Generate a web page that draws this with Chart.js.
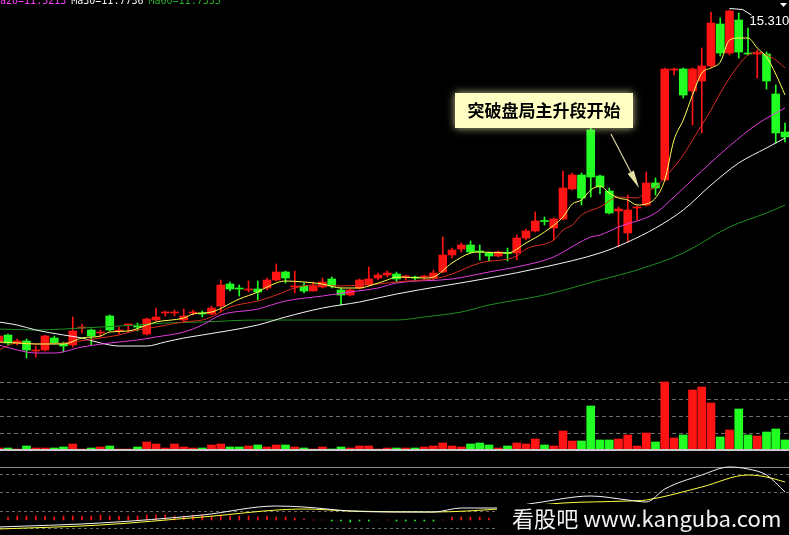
<!DOCTYPE html>
<html>
<head>
<meta charset="utf-8">
<script src="https://cdn.jsdelivr.net/npm/chart.js@4/dist/chart.umd.min.js"></script>
<style>
html, body { margin: 0; padding: 0; background: #000; overflow: hidden; }
#wrap { position: relative; width: 789px; height: 535px; background: #000; }
#wrap canvas { position: absolute; left: 0; }
.sep { position: absolute; left: 0; width: 789px; }
</style>
</head>
<body>
<div id="wrap">
  <div class="sep" style="top:467px;height:1px;background:#8c8c8c"></div>
  <canvas id="main" width="789" height="378" style="top:0"></canvas>
  <canvas id="vol" width="789" height="80" style="top:370px"></canvas>
  <div class="sep" style="top:449px;height:2px;background:#c8c8c8"></div>
  <canvas id="macd" width="789" height="80" style="top:455px"></canvas>
</div>
<script>
// trading days shown, -1 is the half-cut candle at the left edge
const days = Array.from({ length: 86 }, (_, i) => i - 1);

const open = [
  8.67, 8.81, 8.65, 8.69, 8.49, 8.51, 8.75, 8.63, 8.61, 8.95,
  8.91, 8.85, 9.19, 8.89, 9.01, 8.98, 8.83, 9.11, 9.25, 9.25,
  9.11, 9.25, 9.24, 9.23, 9.39, 9.83, 9.74, 9.71, 9.73, 9.75,
  9.91, 10.07, 9.77, 9.79, 9.69, 9.77, 9.93, 9.71, 9.61, 9.75,
  9.81, 9.95, 10.01, 10.03, 9.97, 9.96, 9.97, 9.95, 10.07, 10.41,
  10.53, 10.61, 10.48, 10.45, 10.39, 10.45, 10.45, 10.75, 10.89, 11.09,
  10.95, 11.13, 11.73, 12.01, 12.91, 11.99, 11.69, 11.29, 10.85, 11.35,
  11.41, 11.85, 11.91, 14.11, 14.13, 13.69, 13.89, 14.19, 15.03, 14.45,
  15.11, 14.45, 14.43, 14.43, 13.63, 12.87
];
const high = [
  8.83, 8.83, 8.73, 8.73, 8.59, 8.81, 8.79, 8.67, 9.17, 9.03,
  8.93, 8.91, 9.21, 8.97, 9.03, 9.05, 9.15, 9.35, 9.29, 9.31,
  9.33, 9.31, 9.29, 9.39, 9.91, 9.87, 9.81, 9.89, 9.89, 9.95,
  10.23, 10.09, 10.09, 9.85, 9.87, 9.95, 9.97, 9.75, 9.73, 9.93,
  10.17, 10.05, 10.09, 10.07, 10.01, 9.99, 10.01, 10.11, 10.77, 10.55,
  10.65, 10.69, 10.61, 10.47, 10.49, 10.55, 10.81, 10.93, 11.27, 11.17,
  11.15, 12.09, 12.05, 12.05, 12.95, 12.01, 11.75, 11.37, 11.61, 11.39,
  12.07, 11.95, 14.15, 14.15, 14.15, 14.15, 14.55, 15.27, 15.15, 15.31,
  15.25, 14.95, 14.51, 14.47, 13.81, 13.05
];
const low = [
  8.63, 8.61, 8.61, 8.35, 8.37, 8.49, 8.63, 8.47, 8.57, 8.85,
  8.61, 8.77, 8.89, 8.83, 8.87, 8.89, 8.81, 9.09, 9.19, 9.19,
  9.07, 9.21, 9.17, 9.21, 9.27, 9.69, 9.59, 9.67, 9.51, 9.71,
  9.89, 9.85, 9.65, 9.65, 9.69, 9.75, 9.75, 9.41, 9.59, 9.73,
  9.79, 9.91, 9.97, 9.87, 9.91, 9.91, 9.91, 9.91, 10.05, 10.35,
  10.47, 10.45, 10.31, 10.29, 10.37, 10.29, 10.31, 10.71, 10.87, 11.01,
  10.71, 11.11, 11.71, 11.41, 11.57, 11.63, 11.23, 10.57, 10.67, 11.11,
  11.39, 11.61, 11.89, 14.01, 13.55, 13.01, 12.85, 14.17, 14.39, 14.41,
  14.35, 14.41, 13.95, 13.73, 12.65, 12.67
];
const close = [
  8.79, 8.65, 8.69, 8.51, 8.51, 8.79, 8.65, 8.59, 8.89, 8.95,
  8.79, 8.85, 8.91, 8.89, 9.01, 8.97, 9.13, 9.17, 9.25, 9.25,
  9.19, 9.25, 9.23, 9.35, 9.81, 9.73, 9.73, 9.71, 9.67, 9.91,
  10.07, 9.95, 9.77, 9.69, 9.79, 9.87, 9.79, 9.61, 9.71, 9.91,
  9.93, 10.01, 10.05, 9.93, 9.97, 9.95, 9.97, 10.05, 10.41, 10.51,
  10.61, 10.47, 10.47, 10.39, 10.47, 10.44, 10.75, 10.89, 11.09, 11.08,
  11.13, 11.75, 12.01, 11.55, 11.97, 11.77, 11.25, 11.33, 11.31, 11.37,
  11.85, 11.75, 14.13, 14.13, 13.61, 14.13, 14.19, 15.05, 14.45, 15.29,
  14.47, 14.43, 14.45, 13.89, 12.85, 12.77
];
const volume = [
  2, 2, 1, 4, 2, 2, 2, 3, 6, 1,
  2, 3, 4, 1, 1, 3, 8, 6, 2, 6,
  3, 2, 2, 5, 6, 3, 3, 4, 5, 3,
  5, 5, 3, 2, 1, 3, 1, 3, 2, 4,
  4, 1, 2, 2, 2, 2, 3, 4, 7, 4,
  3, 6, 7, 5, 2, 4, 7, 6, 11, 5,
  4, 19, 9, 9, 44, 10, 10, 11, 15, 4,
  17, 8, 68, 12, 15, 60, 63, 47, 13, 20,
  41, 15, 14, 18, 21, 10
];

// moving averages as [day, price]
const ma5 = [[-1,8.67],[1,8.65],[3,8.63],[6,8.63],[8,8.75],[10,8.79],[11,8.87],[13,8.89],[15,9.01],[16,9.07],
  [19,9.15],[20,9.23],[22,9.27],[25,9.53],[27,9.67],[28,9.77],[30,9.89],[32,9.87],[34,9.83],[36,9.75],
  [38,9.75],[39,9.79],[41,9.91],[42,9.97],[45,9.95],[46,9.97],[48,10.25],[50,10.45],[51,10.47],[54,10.45],
  [56,10.65],[58,10.87],[60,11.17],[61,11.43],[62,11.51],[63,11.71],[64,11.79],[65,11.65],[66,11.55],[67,11.51],
  [68,11.41],[69,11.43],[70,11.55],[71,11.91],[72,12.71],[73,13.11],[74,13.61],[75,14.05],[76,14.15],[77,14.27],
  [78,14.71],[79,14.75],[80,14.75],[81,14.55],[82,14.37],[83,14.03],[84,13.61]];
const ma10 = [[-1,8.51],[1,8.65],[3,8.63],[6,8.65],[7,8.67],[10,8.75],[12,8.81],[14,8.91],[16,8.97],[19,9.07],
  [21,9.11],[22,9.17],[24,9.37],[27,9.49],[29,9.61],[31,9.75],[33,9.81],[36,9.79],[38,9.81],[40,9.83],
  [42,9.87],[47,9.97],[51,10.25],[55,10.39],[56,10.53],[59,10.71],[60,10.91],[61,11.01],[62,11.21],[64,11.37],
  [66,11.57],[68,11.55],[69,11.67],[70,11.77],[72,12.17],[73,12.41],[74,12.71],[75,13.01],[76,13.31],[77,13.65],
  [78,13.95],[79,14.21],[80,14.41],[81,14.47],[82,14.41],[83,14.31],[84,14.15]];
const ma20 = [[-1,8.61],[1,8.51],[3,8.45],[5,8.45],[8,8.57],[11,8.65],[14,8.71],[16,8.77],[19,8.87],[21,9.01],
  [23,9.21],[27,9.33],[30,9.49],[34,9.59],[37,9.67],[40,9.75],[42,9.85],[48,9.93],[52,10.07],[56,10.21],
  [59,10.37],[60,10.47],[63,10.77],[64,10.81],[66,10.97],[70,11.25],[72,11.57],[75,12.09],[78,12.59],[81,13.03],
  [84,13.35]];
const ma30 = [[-1,9.07],[1,9.01],[3,8.91],[6,8.81],[8,8.75],[10,8.65],[12,8.59],[15,8.59],[17,8.67],[19,8.75],
  [21,8.81],[27,9.01],[30,9.17],[34,9.35],[38,9.47],[42,9.63],[52,9.95],[58,10.17],[64,10.45],[67,10.67],
  [70,10.95],[73,11.31],[76,11.81],[79,12.25],[82,12.55],[84,12.75]];
const ma60 = [[-1,8.93],[3,8.91],[6,8.93],[10,8.97],[14,9.01],[17,9.05],[21,9.07],[27,9.11],[34,9.11],[42,9.11],
  [45,9.17],[49,9.27],[52,9.41],[58,9.61],[64,9.91],[68,10.11],[73,10.45],[78,10.97],[82,11.25],[84,11.41]];

// MACD panel
const macdHist = [
  0.03, 0.03, 0.04, 0.04, 0.04, 0.04, 0.03, 0.04, 0.04, 0.04, 0.04,
  0.05, 0.04, 0.04, 0.04, 0.04, 0.05, 0.05, 0.05, 0.04, 0.04, 0.05,
  0.05, 0.04, 0.05, 0.04, 0.04, 0.04, 0.03, 0.04, 0.03, 0.03, 0.02,
  0.01, 0, 0, -0.01, -0.01, -0.02, -0.01, -0.01, 0, 0,
  -0.01, -0.01, -0.01, -0.01, -0.01, 0, 0.03, 0.03, 0.03, 0.03, 0.02, 0.01
];
const dif = [[-1,-0.07],[10,-0.03],[21,0.05],[29,0.14],[32,0.13],[37,0.09],[43,0.08],[46,0.08],[49,0.12],[53,0.12],
  [57,0.17],[63,0.24],[67,0.20],[69,0.18],[71,0.31],[75,0.45],[78,0.53],[80,0.51],[82,0.45],[84,0.28]];
const dea = [[-1,-0.09],[10,-0.05],[21,0.03],[32,0.11],[37,0.09],[46,0.08],[53,0.11],[60,0.17],[67,0.19],[69,0.20],
  [75,0.33],[80,0.45],[82,0.43],[84,0.38]];

const volTickStep = 17;
const macdGrid = [-0.08, 0.09, 0.28, 0.46];

const maLegend = [['Ma20=11.5213', '#ff3cff'], ['Ma30=11.7736', '#f4f4f4'], ['Ma60=11.7335', '#2eae2e']];
const noteText = '突破盘局主升段开始';
const watermark = '看股吧 www.kanguba.com';

const RED = '#ff1414';
const GREEN = '#22ff22';
const candleColors = days.map((d, i) => close[i] >= open[i] ? RED : GREEN);

const X_MIN = -0.865, X_MAX = 84.432;

function pts(list) {
  return list.map(p => ({ x: p[0], y: p[1] }));
}

function baseOptions(yScale) {
  return {
    responsive: false,
    animation: false,
    devicePixelRatio: 1,
    events: [],
    layout: { padding: 0, autoPadding: false },
    plugins: { legend: { display: false }, tooltip: { enabled: false } },
    scales: {
      x: { type: 'linear', min: X_MIN, max: X_MAX, display: false, offset: false },
      y: yScale
    }
  };
}

function maLine(list, color, order) {
  return {
    type: 'line',
    data: pts(list),
    borderColor: color,
    borderWidth: 1,
    pointRadius: 0,
    cubicInterpolationMode: 'monotone',
    order: order
  };
}

// Annotation, high-price marker and the cut MA readout on the price panel
const mainDecor = {
  id: 'mainDecor',
  afterDatasetsDraw(chart) {
    const { ctx, scales: { x, y } } = chart;
    ctx.save();

    ctx.font = '10px "DejaVu Sans Mono"';
    ctx.textBaseline = 'alphabetic';
    ctx.textAlign = 'left';
    let tx = -6;
    maLegend.forEach(([txt, col]) => {
      ctx.fillStyle = col;
      ctx.fillText(txt, tx, 4);
      tx += ctx.measureText(txt).width + 5;
    });

    // highest price marker
    const hi = Math.max(...high);
    const hiIdx = high.indexOf(hi);
    const hx = x.getPixelForValue(days[hiIdx]);
    const hy = y.getPixelForValue(hi);
    ctx.strokeStyle = '#ffffff';
    ctx.lineWidth = 1;
    ctx.beginPath();
    ctx.moveTo(hx, hy - 1.5);
    ctx.lineTo(hx + 13, hy - 0.5);
    ctx.lineTo(hx + 22, hy + 5);
    ctx.stroke();
    ctx.fillStyle = '#ffffff';
    ctx.font = '13px "Liberation Sans"';
    ctx.textBaseline = 'middle';
    ctx.fillText(hi.toFixed(3), hx + 20, hy + 11);

    // small marker at the top right corner
    ctx.beginPath();
    ctx.moveTo(780, 3);
    ctx.lineTo(787, 3);
    ctx.lineTo(783.5, 7);
    ctx.closePath();
    ctx.fill();

    // note box
    ctx.shadowColor = 'rgba(255,255,190,0.75)';
    ctx.shadowBlur = 8;
    ctx.fillStyle = '#ffffc4';
    ctx.fillRect(455, 93, 178, 35);
    ctx.shadowBlur = 0;
    ctx.fillStyle = '#000000';
    ctx.font = 'bold 17px "Noto Sans CJK SC"';
    ctx.textAlign = 'center';
    ctx.textBaseline = 'middle';
    ctx.fillText(noteText, 544, 111);

    // arrow
    const sx = 611, sy = 134, ex = 639, ey = 188;
    const len = Math.hypot(ex - sx, ey - sy);
    const ux = (ex - sx) / len, uy = (ey - sy) / len;
    const bx = ex - ux * 18, by = ey - uy * 18;
    ctx.strokeStyle = '#d6d29a';
    ctx.lineWidth = 1.2;
    ctx.beginPath();
    ctx.moveTo(sx, sy);
    ctx.lineTo(bx, by);
    ctx.stroke();
    ctx.fillStyle = '#e2dea2';
    ctx.beginPath();
    ctx.moveTo(ex, ey);
    ctx.lineTo(bx - uy * 3.5, by + ux * 3.5);
    ctx.lineTo(bx + uy * 3.5, by - ux * 3.5);
    ctx.closePath();
    ctx.fill();

    ctx.restore();
  }
};

new Chart(document.getElementById('main'), {
  type: 'bar',
  data: {
    datasets: [
      maLine(ma5, '#ffff50', 0),
      maLine(ma10, '#d82c20', 0),
      maLine(ma20, '#e03ce0', 0),
      maLine(ma30, '#f4f4f4', 0),
      maLine(ma60, '#1f8f1f', 0),
      {
        data: days.map((d, i) => ({ x: d, y: [open[i], close[i]] })),
        backgroundColor: candleColors,
        barThickness: 8,
        minBarLength: 1,
        grouped: false,
        order: 1
      },
      {
        data: days.map((d, i) => ({ x: d, y: [low[i], high[i]] })),
        backgroundColor: candleColors,
        barThickness: 1,
        grouped: false,
        order: 2
      }
    ]
  },
  options: baseOptions({ type: 'linear', min: 7.95, max: 15.51, display: false }),
  plugins: [mainDecor]
});

new Chart(document.getElementById('vol'), {
  type: 'bar',
  data: {
    datasets: [{
      data: days.map((d, i) => ({ x: d, y: volume[i] })),
      backgroundColor: candleColors,
      barThickness: 8,
      grouped: false
    }]
  },
  options: baseOptions({
    type: 'linear',
    min: 0,
    max: 80,
    ticks: { display: false, stepSize: volTickStep, includeBounds: false },
    grid: {
      drawTicks: false,
      color: c => (c.tick && c.tick.value === 0) ? 'rgba(0,0,0,0)' : '#6e6e6e'
    },
    border: { display: false, dash: [4, 3] }
  })
});

// watermark sits on a black patch in the lower right
const macdDecor = {
  id: 'macdDecor',
  afterDraw(chart) {
    const ctx = chart.ctx;
    ctx.save();
    ctx.fillStyle = '#000000';
    ctx.fillRect(497, 49, 292, 31);
    ctx.font = '20px "Noto Sans CJK SC"';
    const w = ctx.measureText(watermark).width;
    const size = 20 * 269 / w;
    ctx.font = size.toFixed(1) + 'px "Noto Sans CJK SC"';
    ctx.fillStyle = '#f2f2f2';
    ctx.textBaseline = 'alphabetic';
    ctx.textAlign = 'left';
    ctx.fillText(watermark, 512, 72);
    ctx.restore();
  }
};

new Chart(document.getElementById('macd'), {
  type: 'bar',
  data: {
    datasets: [
      {
        type: 'line',
        data: pts(dif),
        borderColor: '#f4f4f4',
        borderWidth: 1,
        pointRadius: 0,
        cubicInterpolationMode: 'monotone',
        order: 0
      },
      {
        type: 'line',
        data: pts(dea),
        borderColor: '#ffff40',
        borderWidth: 1,
        pointRadius: 0,
        cubicInterpolationMode: 'monotone',
        order: 0
      },
      {
        data: macdHist.map((v, i) => ({ x: days[i], y: v })),
        backgroundColor: macdHist.map(v => v >= 0 ? RED : GREEN),
        barThickness: 1,
        grouped: false,
        order: 1
      }
    ]
  },
  options: baseOptions({
    type: 'linear',
    min: -0.15,
    max: 0.65,
    afterBuildTicks: s => { s.ticks = macdGrid.map(v => ({ value: v })); },
    ticks: { display: false },
    grid: { drawTicks: false, color: '#6a6a6a' },
    border: { display: false, dash: [3, 3] }
  }),
  plugins: [macdDecor]
});
</script>
</body>
</html>
